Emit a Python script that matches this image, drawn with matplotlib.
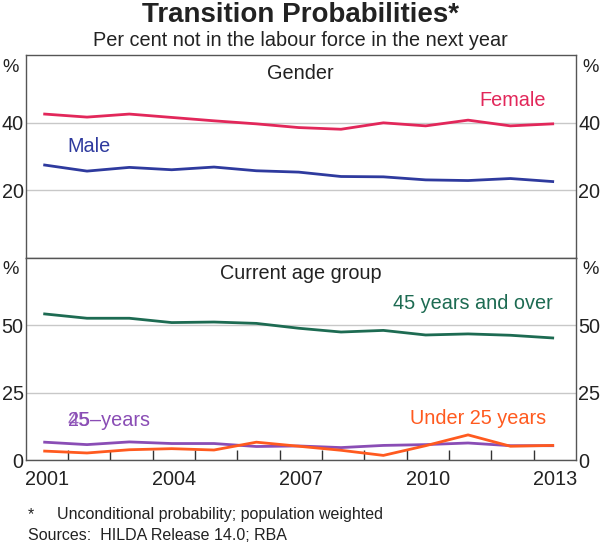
import matplotlib
matplotlib.use("Agg")
import matplotlib.pyplot as plt
import numpy as np

plt.rcParams['font.family'] = ['Liberation Sans', 'DejaVu Sans']

years = np.arange(2001, 2014)
female = [42.5, 41.6, 42.5, 41.5, 40.5, 39.6, 38.5, 38.0, 39.9, 39.0, 40.7, 39.0, 39.6]
male = [27.4, 25.6, 26.7, 26.0, 26.8, 25.7, 25.3, 24.0, 23.9, 23.0, 22.8, 23.4, 22.5]
over45 = [54.1, 52.5, 52.5, 50.9, 51.1, 50.6, 48.8, 47.4, 48.0, 46.3, 46.7, 46.2, 45.2]
age25_45 = [6.6, 5.7, 6.7, 6.1, 6.1, 5.0, 5.2, 4.6, 5.4, 5.7, 6.3, 5.3, 5.3]
under25 = [3.3, 2.6, 3.8, 4.2, 3.7, 6.6, 5.1, 3.6, 1.7, 5.3, 9.3, 5.1, 5.4]
xlabels = ['2001', '2004', '2007', '2010', '2013']

C_F = '#E2275A'
C_M = '#2E3A9E'
C_G = '#1D6B52'
C_P = '#8A4DB5'
C_O = '#FF5A1F'
FRAME = '#555555'
GRID = '#C8C8C8'
TXT = '#222222'

fig = plt.figure(figsize=(6.0, 5.47), dpi=100)
L, R = 25.6 / 600, 576 / 600
ax1 = fig.add_axes([L, 1 - 257.5 / 547, R - L, 202.5 / 547])
ax2 = fig.add_axes([L, 1 - 460 / 547, R - L, 202.5 / 547])

x = years + 0.45
fs = 14.3

def style(ax, ymax, ticks):
    ax.set_xlim(2001, 2014)
    ax.set_ylim(0, ymax)
    ax.set_yticks(ticks)
    for t in ticks:
        ax.axhline(t, color=GRID, lw=1, zorder=0)
    ax.tick_params(axis='y', length=0, labelsize=fs, pad=1.5, left=True, right=True,
                   labelleft=True, labelright=True, colors=TXT)
    for s in ax.spines.values():
        s.set_color(FRAME)
        s.set_linewidth(1)
    ax.text(-0.012, 0.94, '%', transform=ax.transAxes, ha='right', va='center', fontsize=fs - 1, color=TXT)
    ax.text(1.012, 0.94, '%', transform=ax.transAxes, ha='left', va='center', fontsize=fs - 1, color=TXT)

style(ax1, 60, [20, 40])
style(ax2, 75, [0, 25, 50])
ax1.set_yticklabels(['20', '40'])
ax1.set_xticks([])

ax1.plot(x, female, color=C_F, lw=2)
ax1.plot(x, male, color=C_M, lw=2)
ax1.text(2007.5, 54.6, 'Gender', ha='center', va='center', fontsize=fs, color=TXT)
ax1.text(2013.3, 46.5, 'Female', ha='right', va='center', fontsize=fs, color=C_F)
ax1.text(2002.5, 32.8, 'Male', ha='center', va='center', fontsize=fs, color=C_M)

ax2.plot(x, over45, color=C_G, lw=2)
ax2.plot(x, age25_45, color=C_P, lw=2)
ax2.plot(x, under25, color=C_O, lw=2)
ax2.text(2007.5, 69.0, 'Current age group', ha='center', va='center', fontsize=fs, color=TXT)
ax2.text(2013.45, 57.8, '45 years and over', ha='right', va='center', fontsize=fs, color=C_G)
ax2.text(2013.3, 15.5, 'Under 25 years', ha='right', va='center', fontsize=fs, color=C_O)
ax2.text(2002.0, 14.8, '25\u2013years', ha='left', va='center', fontsize=fs, color=C_P)
ax2.text(2002.0, 14.8, '45', ha='left', va='center', fontsize=fs, color=C_P, alpha=0.85)

ax2.set_xticks(np.arange(2002, 2014), minor=True)
ax2.set_xticks([int(v) + 0.5 for v in xlabels])
ax2.set_xticklabels(xlabels)
ax2.tick_params(axis='x', which='major', length=0, labelsize=fs, pad=7, colors=TXT)
ax2.tick_params(axis='x', which='minor', direction='in', length=7, color='#333333', width=1)

fig.text(0.5, 1 - 15 / 547, 'Transition Probabilities*', ha='center', va='center',
         fontsize=20, fontweight='bold', color='#222222')
fig.text(0.5, 1 - 40 / 547, 'Per cent not in the labour force in the next year', ha='center',
         va='center', fontsize=14.3, color='#222222')
fig.text(28 / 600, 1 - 515 / 547, '*', ha='left', va='center', fontsize=11.5, color=TXT)
fig.text(57 / 600, 1 - 515 / 547, 'Unconditional probability; population weighted', ha='left',
         va='center', fontsize=11.5, color=TXT)
fig.text(28 / 600, 1 - 536 / 547, 'Sources:  HILDA Release 14.0; RBA', ha='left', va='center',
         fontsize=11.5, color=TXT)

fig.savefig('out.png', dpi=100)
